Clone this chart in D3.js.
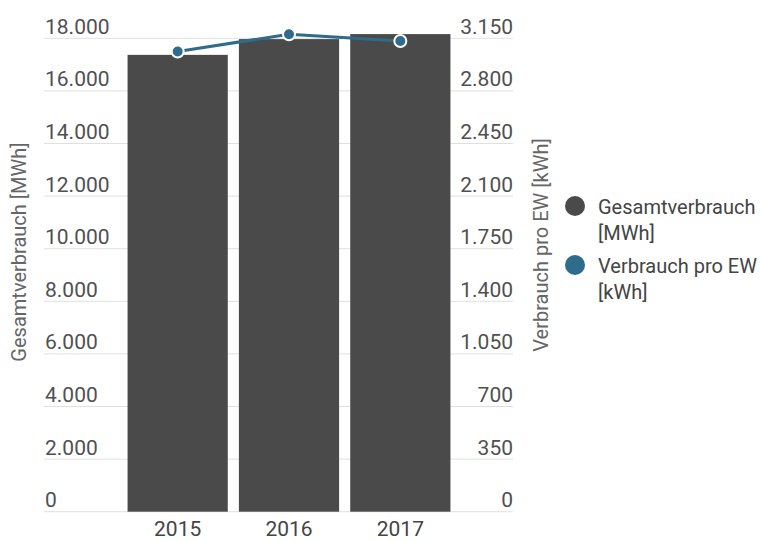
<!DOCTYPE html>
<html><head><meta charset="utf-8">
<script src="https://cdn.jsdelivr.net/npm/d3@7/dist/d3.min.js"></script>
<style>body{margin:0;background:#fff;} svg{display:block;font-family:Roboto,sans-serif;}</style>
</head><body>
<svg id="c" width="760" height="541"></svg>
<script>
const years = ["2015", "2016", "2017"];
const gesamt = [17370, 17970, 18160];
const proEW = [3062, 3177, 3132];
const leftTicks = [0, 2000, 4000, 6000, 8000, 10000, 12000, 14000, 16000, 18000];
const rightTicks = [0, 350, 700, 1050, 1400, 1750, 2100, 2450, 2800, 3150];
const legendLabels = [["Gesamtverbrauch", "[MWh]"], ["Verbrauch pro EW", "[kWh]"]];
const colors = ["#4a4a4a", "#2f6b8b"];

const svg = d3.select("#c");
const fmt = d => d3.format(",")(d).replace(/,/g, ".");
const yL = d3.scaleLinear().domain([0, 18000]).range([511.7, 38.3]);
const yR = d3.scaleLinear().domain([0, 3150]).range([511.7, 38.3]);
const x = d3.scaleBand().domain(years).range([122, 456]).paddingInner(0.1).paddingOuter(0.05);
const gx0 = 44, gx1 = 513;

// gridlines
svg.append("g").selectAll("line").data(leftTicks).join("line")
  .attr("x1", gx0).attr("x2", gx1).attr("y1", d => yL(d)).attr("y2", d => yL(d))
  .attr("stroke", "#e0e0e0").attr("stroke-width", 1);

// left tick labels
svg.append("g").selectAll("text").data(leftTicks).join("text")
  .attr("x", gx0 + 1).attr("y", d => yL(d) - 4.5)
  .attr("font-size", 21).attr("fill", "#505050").text(d => fmt(d));
// right tick labels
svg.append("g").selectAll("text").data(rightTicks).join("text")
  .attr("x", gx1).attr("y", d => yR(d) - 4.5).attr("text-anchor", "end")
  .attr("font-size", 21).attr("fill", "#505050").text(d => fmt(d));

// bars
svg.append("g").selectAll("rect").data(years).join("rect")
  .attr("x", d => x(d)).attr("width", x.bandwidth())
  .attr("y", (d, i) => yL(gesamt[i])).attr("height", (d, i) => yL(0) - yL(gesamt[i]))
  .attr("fill", colors[0]);

// line
const line = d3.line().x((d, i) => x(years[i]) + x.bandwidth() / 2).y(d => yR(d));
svg.append("path").datum(proEW).attr("d", line).attr("fill", "none")
  .attr("stroke", colors[1]).attr("stroke-width", 3);
svg.append("g").selectAll("circle").data(proEW).join("circle")
  .attr("cx", (d, i) => x(years[i]) + x.bandwidth() / 2).attr("cy", d => yR(d))
  .attr("r", 6).attr("fill", colors[1]).attr("stroke", "#fff").attr("stroke-width", 2);

// x labels
svg.append("g").selectAll("text").data(years).join("text")
  .attr("x", d => x(d) + x.bandwidth() / 2).attr("y", 536).attr("text-anchor", "middle")
  .attr("font-size", 21).attr("fill", "#444").text(d => d);

// axis titles
svg.append("text").attr("transform", "translate(26,252) rotate(-90)").attr("text-anchor", "middle")
  .attr("font-size", 20).attr("fill", "#666").text("Gesamtverbrauch [MWh]");
svg.append("text").attr("transform", "translate(548,245) rotate(-90)").attr("text-anchor", "middle")
  .attr("font-size", 20).attr("fill", "#666").text("Verbrauch pro EW [kWh]");

// legend
const lg = svg.append("g").selectAll("g").data(legendLabels).join("g")
  .attr("transform", (d, i) => `translate(575,${206 + i * 59})`);
lg.append("circle").attr("r", 10).attr("fill", (d, i) => colors[i]);
lg.append("text").attr("x", 23).attr("y", 8).attr("font-size", 20).attr("fill", "#444").text(d => d[0]);
lg.append("text").attr("x", 23).attr("y", 34).attr("font-size", 20).attr("fill", "#444").text(d => d[1]);
</script>
</body></html>
